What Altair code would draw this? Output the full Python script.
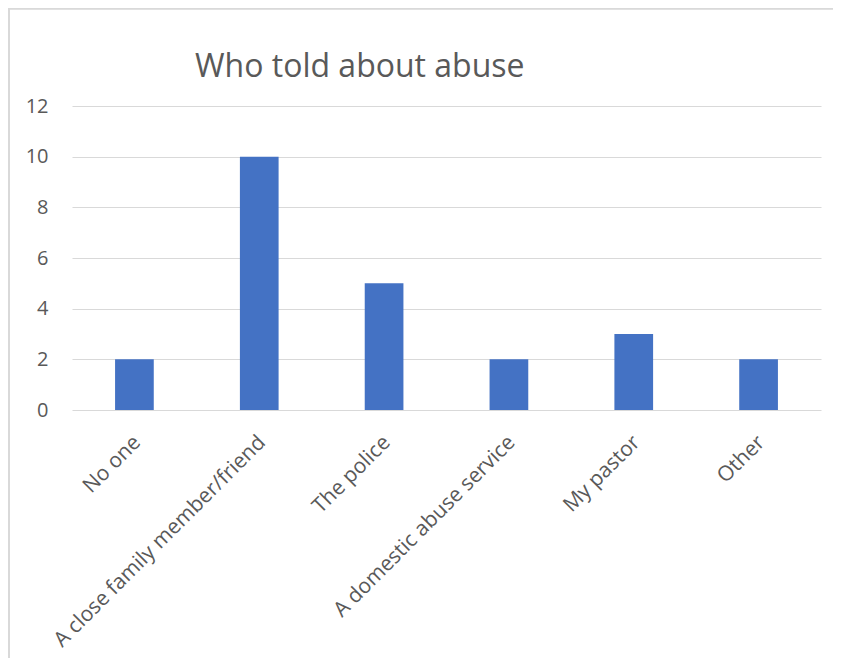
import altair as alt
import pandas as pd

categories = ["No one", "A close family member/friend", "The police",
              "A domestic abuse service", "My pastor", "Other"]
counts = [2, 10, 5, 2, 3, 2]
y_ticks = [0, 2, 4, 6, 8, 10, 12]
title_text = "Who told about abuse"

df = pd.DataFrame({"who": categories, "n": counts})

FONT = "Open Sans"
TEXT = "#595959"
GRID = "#D9D9D9"

bars = alt.Chart(df).mark_bar(color="#4472C4").encode(
    x=alt.X("who:N", sort=categories,
            scale=alt.Scale(paddingInner=0.69, paddingOuter=0.345),
            axis=alt.Axis(title=None, labelAngle=-45, labelAlign="right",
                          labelBaseline="middle", labelPadding=29, labelOffset=3,
                          labelFontSize=21, labelFont=FONT, labelColor=TEXT,
                          ticks=False, domain=False, labelLimit=400)),
    y=alt.Y("n:Q", scale=alt.Scale(domain=[0, 12]),
            axis=alt.Axis(title=None, values=y_ticks, labelFontSize=20,
                          labelFont=FONT, labelColor=TEXT, ticks=False,
                          domain=False, labelPadding=24, gridColor=GRID,
                          gridWidth=1)),
)

border_top = alt.Chart(df).mark_rule(color=GRID, strokeWidth=1.5).encode(
    x=alt.value(-63.5), x2=alt.value(780), y=alt.value(-97.5))
border_left = alt.Chart(df).mark_rule(color=GRID, strokeWidth=1.5).encode(
    x=alt.value(-63), y=alt.value(-98), y2=alt.value(560))

chart = alt.layer(bars, border_top, border_left).properties(
    width=749, height=304,
    autosize=alt.AutoSizeParams(type="none"),
    padding={"left": 64, "top": 98, "right": 12, "bottom": 248},
    title=alt.TitleParams(title_text, anchor="start", frame="group", dx=123,
                          offset=0, dy=102, baseline="alphabetic", fontSize=32,
                          font=FONT, fontWeight="normal", color=TEXT),
).configure(background="white").configure_view(strokeWidth=0, stroke=None)

chart.save("out.html", embed_options={"renderer": "svg", "actions": False})
